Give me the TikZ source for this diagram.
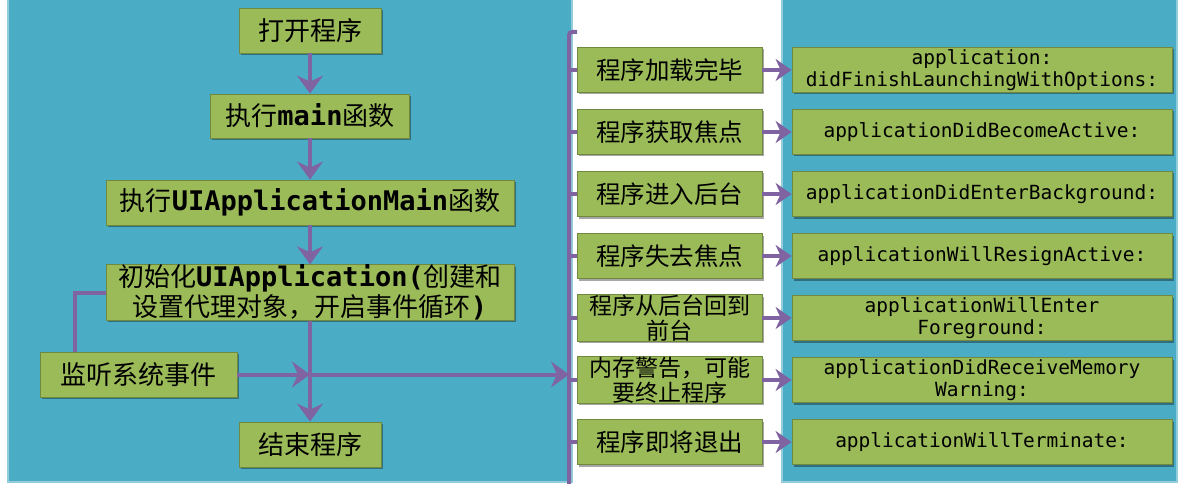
\documentclass[tikz,border=0pt]{standalone}
\usepackage{fontspec}
\newfontfamily\cjk{Noto Sans CJK SC}
\newfontfamily\mono{DejaVu Sans Mono}
\usetikzlibrary{arrows.meta,shadows}
\definecolor{panel}{HTML}{4BACC6}
\definecolor{pborder}{HTML}{93CCDB}
\definecolor{gfill}{HTML}{9BBB59}
\definecolor{gline}{HTML}{71893F}
\definecolor{arr}{HTML}{8064A2}
\newcommand\ml[1]{{\mono\bfseries\fontsize{27}{28}\selectfont #1}}
\begin{document}
\begin{tikzpicture}[x=1pt,y=-1pt,
  gbox/.style={draw=gline, line width=0.8pt, fill=gfill, inner sep=0pt, align=center, text=black,
    drop shadow={shadow xshift=1.5pt, shadow yshift=-2pt, opacity=0.35, fill=black}},
  lbox/.style={gbox, font=\cjk\fontsize{26}{30}\selectfont},
  cbox/.style={gbox, minimum width=185, minimum height=45, font=\cjk\fontsize{24.5}{26}\selectfont},
  mbox/.style={gbox, minimum width=380, minimum height=45, font=\mono\fontsize{19.5}{22}\selectfont},
  flow/.style={draw=arr, line width=4pt, -{Stealth[length=18pt,width=26pt,inset=6pt]}},
  sflow/.style={draw=arr, line width=4pt, -{Stealth[length=16pt,width=22pt,inset=5pt]}},
  bus/.style={draw=arr, line width=4pt},
  panelbox/.style={fill=panel, draw=pborder, line width=1.5pt}]
\useasboundingbox (0,0) rectangle (1184,484);
\fill[white] (0,0) rectangle (1184,484);
% panels
\path[panelbox] (8,-2) rectangle (572,482);
\path[panelbox] (782,-2) rectangle (1177,482);
% left flow
\node[lbox, minimum width=142, minimum height=45] (open) at (310,30.5) {打开程序};
\node[lbox, minimum width=199, minimum height=44] (mainf) at (310,116) {执行\ml{main}函数};
\node[lbox, minimum width=408, minimum height=45] (uimain) at (310,202.5) {执行\ml{UIApplicationMain}函数};
\node[lbox, minimum width=408, minimum height=51] (init) at (310,292.5) {初始化\ml{UIApplication(}创建和\\设置代理对象，开启事件循环\ml{)}};
\node[lbox, minimum width=197, minimum height=45] (listen) at (138.5,374.5) {监听系统事件};
\node[lbox, minimum width=142, minimum height=45] (endp) at (310,444.5) {结束程序};
\draw[flow] (open.south) -- (open.south |- mainf.north);
\draw[flow] (mainf.south) -- (mainf.south |- uimain.north);
\draw[flow] (uimain.south) -- (uimain.south |- init.north);
\draw[flow] (init.south) -- (init.south |- endp.north);
\coordinate (j) at (init.south |- listen.east);
\draw[flow] (listen.east) -- (j);
\coordinate (bushit) at (569,374.5);
\draw[flow] (j) -- (bushit);
\coordinate (lc) at (75,374.5);
\draw[bus] (listen.north -| lc) |- (init.west);
% right column
\node[cbox] (l1) at (669.5,70) {程序加载完毕};
\node[cbox] (l2) at (669.5,132) {程序获取焦点};
\node[cbox] (l3) at (669.5,194) {程序进入后台};
\node[cbox] (l4) at (669.5,256) {程序失去焦点};
\node[cbox, font=\cjk\fontsize{23}{25}\selectfont] (l5) at (669.5,318) {程序从后台回到\\前台};
\node[cbox, font=\cjk\fontsize{23}{25}\selectfont] (l6) at (669.5,380) {内存警告，可能\\要终止程序};
\node[cbox] (l7) at (669.5,442) {程序即将退出};
\node[mbox] (r1) at (982,70) {application:\\didFinishLaunchingWithOptions:};
\node[mbox] (r2) at (982,132) {applicationDidBecomeActive:};
\node[mbox] (r3) at (982,194) {applicationDidEnterBackground:};
\node[mbox] (r4) at (982,256) {applicationWillResignActive:};
\node[mbox] (r5) at (982,318) {applicationWillEnter\\Foreground:};
\node[mbox] (r6) at (982,380) {applicationDidReceiveMemory\\Warning:};
\node[mbox] (r7) at (982,442) {applicationWillTerminate:};
% bus
\coordinate (bt) at (569,32);
\coordinate (btr) at (577,32);
\coordinate (bb) at (569,484);
\draw[bus, rounded corners=3pt] (btr) -- (bt) -- (bb);
\foreach \i in {1,...,7} {
  \draw[bus] (l\i.west -| bt) -- (l\i.west);
  \draw[sflow] (l\i.east) -- (r\i.west);
}
\end{tikzpicture}
\end{document}
